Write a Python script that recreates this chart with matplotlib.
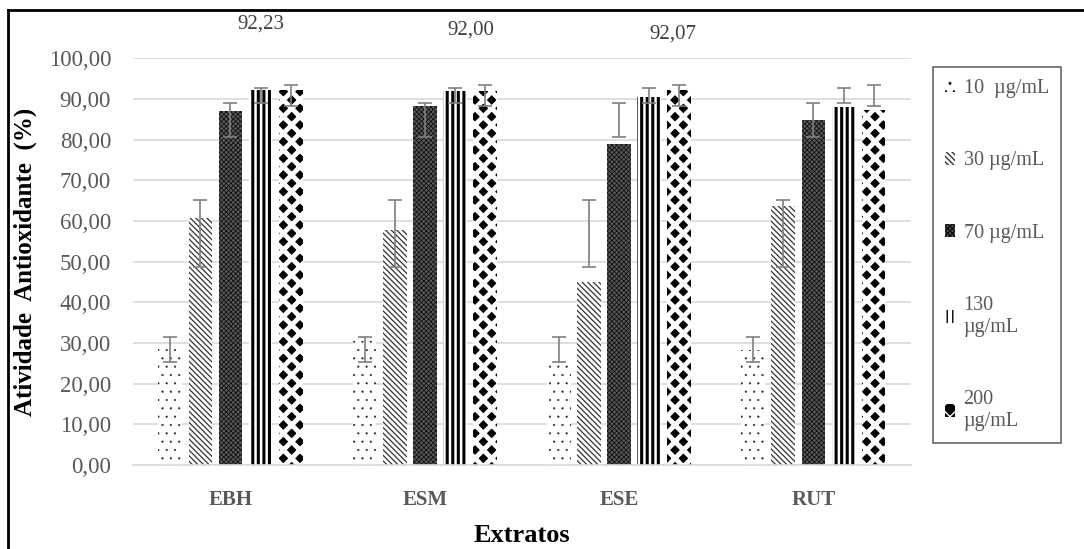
import numpy as np
import matplotlib.pyplot as plt
from matplotlib.patches import Patch
from matplotlib.lines import Line2D

plt.rcParams['font.family'] = ['Liberation Serif', 'DejaVu Serif']

extratos = ['EBH', 'ESM', 'ESE', 'RUT']
series = ['10  µg/mL', '30 µg/mL', '70 µg/mL', '130\nµg/mL', '200\nµg/mL']

# Atividade antioxidante (%) por concentração
c10 = [28.4, 30.5, 25.0, 28.3]
c30 = [60.7, 57.7, 45.0, 63.7]
c70 = [87.0, 88.3, 78.8, 84.8]
c130 = [92.23, 92.00, 90.5, 87.9]
c200 = [92.1, 92.0, 92.07, 87.2]
values = [c10, c30, c70, c130, c200]

# extremos das barras de erro (iguais em todos os extratos)
err_low = [25.3, 48.7, 80.6, 88.9, 88.3]
err_high = [31.4, 65.1, 88.9, 92.6, 93.3]

# rótulos de dados no topo
top_labels = ['92,23', '92,00', '92,07']
top_label_x = [0.154, 1.235, 2.275]
top_label_y = [108.5, 107.0, 106.0]

styles = [
    dict(facecolor='white', edgecolor='#222222', hatch='..'),
    dict(facecolor='white', edgecolor='#333333', hatch='\\\\\\\\\\\\'),
    dict(facecolor='#5a5a5a', edgecolor='#111111', hatch='xxxxxxx'),
    dict(facecolor='white', edgecolor='black', hatch='|||'),
    dict(facecolor='black', edgecolor='white', hatch='xx'),
]
hatch_lw = [0.3, 0.9, 0.6, 2.2, 3.5]

fig = plt.figure(figsize=(10.84, 5.49), dpi=100)
ax = fig.add_axes([0.123, 0.153, 0.717, 0.741])

x = np.arange(len(extratos))
step = 0.155
width = 0.122
handles = []
for i, vals in enumerate(values):
    pos = x + (i - 2) * step
    with plt.rc_context({'hatch.linewidth': hatch_lw[i]}):
        ax.bar(pos, vals, width, linewidth=0, zorder=2, **styles[i])
        handles.append(Patch(linewidth=0, **styles[i]))
    mid = (err_low[i] + err_high[i]) / 2
    half = (err_high[i] - err_low[i]) / 2
    ax.errorbar(pos, np.full(len(pos), mid), yerr=half, fmt='none', ecolor='#7f7f7f',
                elinewidth=1.2, capsize=4.7, capthick=1.2, zorder=3)

for k, txt in enumerate(top_labels):
    ax.text(top_label_x[k], top_label_y[k], txt, ha='center',
            va='center', fontsize=15, color='#404040', clip_on=False)

ax.set_xlim(-0.5, 3.5)
ax.set_ylim(0, 100)
ax.set_yticks(np.arange(0, 101, 10))
ax.set_yticklabels([f'{t:.2f}'.replace('.', ',') for t in np.arange(0, 101, 10)])
ax.set_xticks(x)
ax.set_xticklabels(extratos, fontweight='bold')
ax.tick_params(axis='y', length=0, labelsize=16.5, labelcolor='#595959', pad=16)
ax.tick_params(axis='x', length=0, labelsize=15, labelcolor='#595959', pad=18)
ax.grid(axis='y', color='#d9d9d9', linewidth=1.2, zorder=0)
for s in ['top', 'right', 'left']:
    ax.spines[s].set_visible(False)
ax.spines['bottom'].set_color('#d9d9d9')
ax.spines['bottom'].set_linewidth(1.2)

ax.set_xlabel('Extratos', fontsize=19, fontweight='bold', labelpad=10)
ax.set_ylabel('Atividade  Antioxidante  (%)', fontsize=18, fontweight='bold', labelpad=8)

leg = fig.legend(handles, series, loc='upper left', bbox_to_anchor=(0.861, 0.878),
                 borderaxespad=0, frameon=True, fancybox=False, edgecolor='#404040',
                 fontsize=14.5, labelspacing=2.65, handlelength=0.5, handleheight=0.6,
                 handletextpad=0.4, borderpad=0.6, labelcolor='#595959')
leg.get_frame().set_linewidth(1.2)

fig.add_artist(Line2D([8 / 1084, 8 / 1084], [0, 1 - 10 / 549], color='black', linewidth=2))
fig.add_artist(Line2D([8 / 1084, 1], [1 - 10 / 549, 1 - 10 / 549], color='black', linewidth=2))

fig.savefig('out.png', dpi=100)
